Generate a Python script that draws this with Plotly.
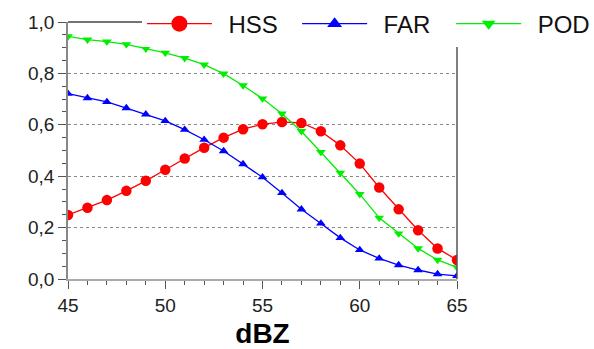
import plotly.graph_objects as go

dbz = list(range(45, 66))
hss = [0.249, 0.277, 0.307, 0.343, 0.382, 0.425, 0.469, 0.511, 0.550, 0.583, 0.602,
       0.611, 0.607, 0.575, 0.520, 0.449, 0.356, 0.271, 0.190, 0.119, 0.074]
far = [0.721, 0.704, 0.689, 0.665, 0.641, 0.615, 0.581, 0.542, 0.498, 0.447, 0.396,
       0.335, 0.271, 0.216, 0.160, 0.113, 0.080, 0.054, 0.035, 0.019, 0.012]
pod = [0.944, 0.931, 0.924, 0.913, 0.896, 0.880, 0.859, 0.834, 0.799, 0.753, 0.702,
       0.643, 0.575, 0.494, 0.413, 0.330, 0.238, 0.177, 0.119, 0.074, 0.045]

# name, values, colour, symbol, marker size, legend marker size, legend id, legend x, trailing pad
NB = "\u00a0"
TH = "\u2009"
series = [
    ("HSS", hss, "#ff0000", "circle", 10.5, 16, "legend", 0.190, NB * 2 + TH),
    ("FAR", far, "#0000ff", "triangle-up", 8.5, 13, "legend2", 0.589, NB * 2 + TH),
    ("POD", pod, "#00ee00", "triangle-down", 8.5, 12, "legend3", 0.985, ""),
]

font = "Liberation Sans, Arial, sans-serif"
fig = go.Figure()
legends = {}
for name, vals, col, sym, sz, lsz, lg, lx, pad in series:
    fig.add_trace(go.Scatter(
        x=dbz, y=vals, name=name, mode="lines+markers", showlegend=False,
        line=dict(color=col, width=1.3),
        marker=dict(color=col, symbol=sym, size=sz),
    ))
    # legend entry (no data drawn)
    fig.add_trace(go.Scatter(
        x=[None], y=[None], name=NB + TH + name + pad, mode="lines+markers",
        legend=lg, showlegend=True,
        line=dict(color=col, width=1.3),
        marker=dict(color=col, symbol=sym, size=lsz),
    ))
    legends[lg] = dict(orientation="h", x=lx, xanchor="left", y=0.992, yanchor="middle",
                       bgcolor="white", font=dict(size=24, color="#111111", family=font),
                       itemwidth=65, borderwidth=0)

fig.update_layout(
    width=594, height=349,
    margin=dict(l=68, r=137, t=22, b=70, autoexpand=False),
    plot_bgcolor="white", paper_bgcolor="white",
    font=dict(family=font, color="#222222"),
    showlegend=True,
    **legends,
    xaxis=dict(
        range=[45, 65], tickvals=[45, 50, 55, 60, 65],
        tickfont=dict(size=19), ticks="outside", ticklen=8, tickcolor="#555555",
        showline=True, linecolor="#aaaaaa", linewidth=1.5, mirror=False,
        showgrid=False, zeroline=False,
        minor=dict(dtick=1, ticks="outside", ticklen=4, tickcolor="#555555", showgrid=False),
        title=dict(text="<b>dBZ</b>", font=dict(size=28, color="#000000"), standoff=14),
    ),
    yaxis=dict(
        range=[0, 1.0], tickvals=[0, 0.2, 0.4, 0.6, 0.8, 1.0],
        ticktext=["0,0", "0,2", "0,4", "0,6", "0,8", "1,0"],
        tickfont=dict(size=19), ticks="outside", ticklen=8, tickcolor="#555555",
        showline=True, linecolor="#888888", linewidth=1.5,
        showgrid=True, gridcolor="#888888", griddash="dot", gridwidth=1,
        zeroline=False,
        minor=dict(dtick=0.05, ticks="outside", ticklen=4, tickcolor="#555555", showgrid=False),
    ),
)
# frame top and right edges (legend boxes cover part of them, as in the original)
fig.add_shape(type="line", xref="paper", yref="paper", x0=0, x1=1, y0=1, y1=1,
              line=dict(color="#444444", width=1.5), layer="above")
fig.add_shape(type="line", xref="paper", yref="paper", x0=1, x1=1, y0=0, y1=1,
              line=dict(color="#555555", width=1.5), layer="above")

fig.write_html("out.html")
